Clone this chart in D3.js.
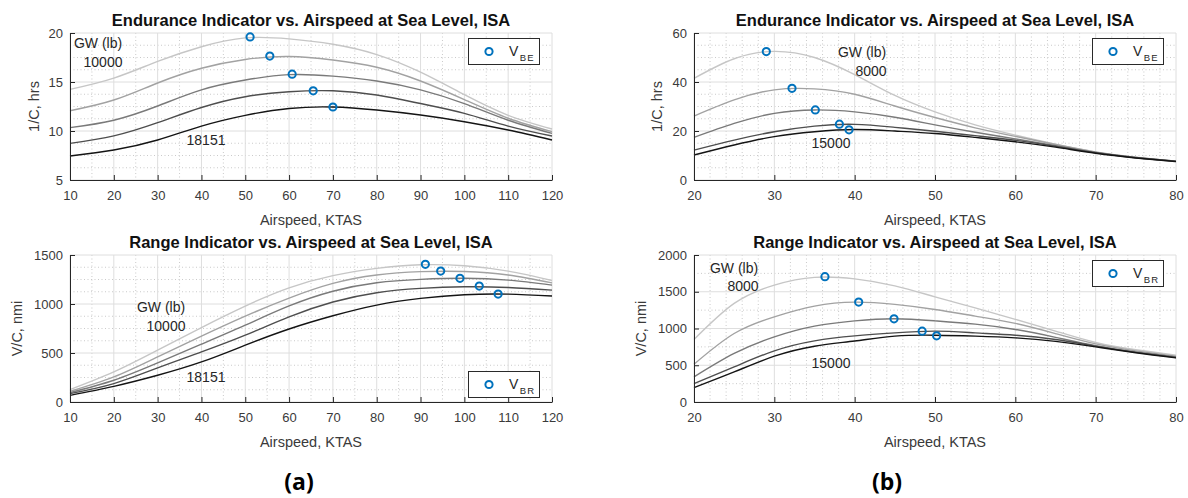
<!DOCTYPE html>
<html>
<head>
<meta charset="utf-8">
<script src="https://cdn.jsdelivr.net/npm/d3@7"></script>
<style>
  html, body { margin: 0; padding: 0; background: #fff; }
  svg { display: block; }
  text { font-family: "Liberation Sans", Arial, Helvetica, sans-serif; }
</style>
</head>
<body>
<svg id="chart" width="1188" height="498"></svg>
<script>
// ---------------- DATA ----------------
// Panel (a): airspeed samples (KTAS)
const speedsA = [10, 20, 30, 40, 50, 60, 70, 80, 90, 100, 110, 120];
// Endurance indicator 1/C (hrs), GW 10000 -> 18151 lb
const enduranceA = [
  [14.25, 15.4, 17.1, 18.6, 19.5, 19.4, 18.85, 17.8, 16.0, 13.7, 11.6, 10.2],
  [12.07, 13.16, 14.9, 16.4, 17.3, 17.6, 17.24, 16.5, 15.1, 13.2, 11.3, 9.93],
  [10.34, 11.1, 12.55, 14.2, 15.2, 15.75, 15.6, 15.1, 14.2, 12.8, 11.1, 9.76],
  [8.74, 9.5, 10.85, 12.4, 13.5, 14.0, 14.1, 13.67, 12.8, 11.8, 10.5, 9.49],
  [7.45, 8.06, 9.08, 10.5, 11.6, 12.3, 12.45, 12.14, 11.63, 10.95, 10.1, 9.08]
];
const vbeA = [[51.1, 19.6], [55.6, 17.65], [60.7, 15.8], [65.5, 14.1], [70.0, 12.45]];
// Range indicator V/C (nmi)
const rangeA = [
  [127, 307, 529, 760, 979, 1165, 1290, 1364, 1400, 1390, 1335, 1240],
  [109, 256, 460, 672, 876, 1060, 1210, 1296, 1330, 1332, 1296, 1215],
  [96, 222, 399, 590, 784, 980, 1130, 1217, 1251, 1262, 1244, 1193],
  [86, 188, 348, 511, 682, 869, 1020, 1115, 1159, 1176, 1169, 1142],
  [68, 160, 273, 409, 580, 745, 880, 989, 1057, 1095, 1101, 1081]
];
const vbrA = [[91.1, 1405], [94.6, 1336], [99.0, 1262], [103.4, 1183], [107.7, 1101]];

// Panel (b)
const speedsB = [20, 25, 30, 35, 40, 45, 50, 55, 60, 65, 70, 75, 80];
// GW 8000 -> 15000 lb
const enduranceB = [
  [41.5, 49.5, 52.5, 50.0, 43.0, 34.5, 27.8, 22.5, 18.3, 14.6, 11.5, 9.3, 7.7],
  [26.1, 32.7, 36.8, 37.2, 35.0, 30.2, 25.5, 21.3, 17.8, 14.5, 11.4, 9.2, 7.7],
  [17.4, 23.1, 27.2, 28.6, 27.8, 25.6, 22.5, 19.5, 16.8, 14.0, 11.2, 9.2, 7.7],
  [12.2, 16.3, 19.7, 22.0, 22.7, 21.5, 19.9, 18.1, 16.2, 13.8, 11.1, 9.1, 7.6],
  [10.2, 14.3, 17.7, 19.7, 20.6, 20.0, 19.0, 17.4, 15.6, 13.4, 10.9, 9.0, 7.5]
];
const vbeB = [[29.0, 52.4], [32.2, 37.4], [35.1, 28.6], [38.1, 22.8], [39.3, 20.5]];
const rangeB = [
  [850, 1341, 1591, 1696, 1675, 1580, 1430, 1280, 1125, 965, 810, 710, 637],
  [514, 932, 1159, 1305, 1359, 1328, 1259, 1168, 1069, 930, 790, 695, 623],
  [341, 660, 886, 1032, 1104, 1132, 1104, 1059, 987, 880, 765, 680, 614],
  [250, 477, 696, 832, 900, 941, 964, 941, 909, 850, 760, 675, 605],
  [196, 409, 623, 759, 830, 896, 909, 896, 873, 825, 750, 670, 600]
];
const vbrB = [[36.3, 1705], [40.5, 1359], [44.9, 1132], [48.4, 964], [50.2, 900]];

const ticksXA = [10, 20, 30, 40, 50, 60, 70, 80, 90, 100, 110, 120];
const ticksXB = [20, 30, 40, 50, 60, 70, 80];
const ticksEndA = [5, 10, 15, 20];
const ticksRangeA = [0, 500, 1000, 1500];
const ticksEndB = [0, 20, 40, 60];
const ticksRangeB = [0, 500, 1000, 1500, 2000];

const titleEnd = "Endurance Indicator vs. Airspeed at Sea Level, ISA";
const titleRange = "Range Indicator vs. Airspeed at Sea Level, ISA";
const xLabel = "Airspeed, KTAS";
const yLabelEnd = "1/C, hrs";
const yLabelRange = "V/C, nmi";
const gwColors = ["#c6c6c6", "#a2a2a2", "#7a7a7a", "#4e4e4e", "#141414"];

// ---------------- DRAW ----------------
const svg = d3.select("#chart");
svg.append("rect").attr("width", 1188).attr("height", 498).attr("fill", "#fff");

function range(a, b, s) { const r = []; for (let v = a; v <= b + 1e-9; v += s) r.push(+v.toFixed(6)); return r; }

function panel(cfg) {
  const x = d3.scaleLinear().domain(cfg.xd).range([cfg.x0, cfg.x1]);
  const y = d3.scaleLinear().domain(cfg.yd).range([cfg.y1, cfg.y0]);
  const g = svg.append("g");

  // minor grid (dotted)
  const minor = g.append("g").attr("stroke", "#bdbdbd").attr("stroke-width", 0.8).attr("stroke-dasharray", "1,2.5");
  range(cfg.xd[0], cfg.xd[1], cfg.mx).forEach(v => {
    if (cfg.tx.some(t => Math.abs(t - v) < 1e-6)) return;
    minor.append("line").attr("x1", x(v)).attr("x2", x(v)).attr("y1", cfg.y0).attr("y2", cfg.y1);
  });
  range(cfg.yd[0], cfg.yd[1], cfg.my).forEach(v => {
    if (cfg.ty.some(t => Math.abs(t - v) < 1e-6)) return;
    minor.append("line").attr("y1", y(v)).attr("y2", y(v)).attr("x1", cfg.x0).attr("x2", cfg.x1);
  });
  // major grid
  const major = g.append("g").attr("stroke", "#dedede").attr("stroke-width", 1);
  cfg.tx.forEach(v => major.append("line").attr("x1", x(v)).attr("x2", x(v)).attr("y1", cfg.y0).attr("y2", cfg.y1));
  cfg.ty.forEach(v => major.append("line").attr("y1", y(v)).attr("y2", y(v)).attr("x1", cfg.x0).attr("x2", cfg.x1));

  // curves
  const line = d3.line().x(d => x(d[0])).y(d => y(d[1])).curve(d3.curveNatural);
  cfg.series.forEach((s, i) => {
    g.append("path").datum(cfg.xs.map((v, j) => [v, s[j]]))
      .attr("d", line).attr("fill", "none").attr("stroke", gwColors[i]).attr("stroke-width", 1.4);
  });
  // markers
  g.selectAll(".mk").data(cfg.pts).enter().append("circle")
    .attr("cx", d => x(d[0])).attr("cy", d => y(d[1])).attr("r", 3.6)
    .attr("fill", "none").attr("stroke", "#0072BD").attr("stroke-width", 2);

  // axes
  const ax = g.append("g").attr("transform", `translate(0,${cfg.y1})`)
    .call(d3.axisBottom(x).tickValues(cfg.tx).tickSizeInner(-5).tickSizeOuter(0).tickPadding(11).tickFormat(d3.format("d")));
  const ay = g.append("g").attr("transform", `translate(${cfg.x0},0)`)
    .call(d3.axisLeft(y).tickValues(cfg.ty).tickSizeInner(-5).tickSizeOuter(0).tickPadding(7).tickFormat(d3.format("d")));
  [ax, ay].forEach(a => {
    a.select(".domain").attr("stroke", "#262626");
    a.selectAll(".tick line").attr("stroke", "#262626");
    a.selectAll("text").attr("fill", "#3a3a3a").style("font-size", "13px")
      .style("font-family", '"Liberation Sans", Arial, sans-serif');
  });

  // title
  g.append("text").attr("x", (cfg.x0 + cfg.x1) / 2).attr("y", cfg.y0 - 7.5)
    .attr("text-anchor", "middle").style("font-size", "16.5px").style("font-weight", "bold")
    .attr("fill", "#111").text(cfg.title);
  // x label
  g.append("text").attr("x", (cfg.x0 + cfg.x1) / 2).attr("y", cfg.y1 + 45)
    .attr("text-anchor", "middle").style("font-size", "14.5px").attr("fill", "#3a3a3a").text(xLabel);
  // y label
  g.append("text").attr("transform", `translate(${cfg.ylx},${(cfg.y0 + cfg.y1) / 2}) rotate(-90)`)
    .attr("text-anchor", "middle").attr("dy", "0.35em").style("font-size", "14.5px").attr("fill", "#3a3a3a").text(cfg.ylabel);

  // annotations
  cfg.notes.forEach(n => g.append("text").attr("x", n[0]).attr("y", n[1]).attr("text-anchor", "middle")
    .style("font-size", "14px").attr("fill", "#262626").text(n[2]));

  // legend
  const L = cfg.legend;
  const lg = g.append("g").attr("transform", `translate(${L[0]},${L[1]})`);
  lg.append("rect").attr("x", 0.5).attr("y", 0.5).attr("width", 71).attr("height", 26)
    .attr("fill", "#fff").attr("stroke", "#2a2a2a").attr("stroke-width", 1);
  lg.append("circle").attr("cx", 21).attr("cy", 13.5).attr("r", 3.6)
    .attr("fill", "none").attr("stroke", "#0072BD").attr("stroke-width", 2);
  const t = lg.append("text").attr("x", 41).attr("y", 18).style("font-size", "14px").attr("fill", "#262626");
  t.append("tspan").text("V");
  t.append("tspan").attr("dy", 5).attr("dx", 1.5).style("font-size", "9.5px").style("letter-spacing", "1px").text(L[2]);
}

panel({ x0: 70, x1: 552, y0: 33, y1: 180, xd: [10, 120], yd: [5, 20], tx: ticksXA, ty: ticksEndA, mx: 5, my: 1.25,
  xs: speedsA, series: enduranceA, pts: vbeA, title: titleEnd, ylabel: yLabelEnd, ylx: 34,
  notes: [[98, 48, "GW (lb)"], [103, 66.5, "10000"], [206, 145, "18151"]], legend: [468, 38, "BE"] });
panel({ x0: 70, x1: 552, y0: 255, y1: 402, xd: [10, 120], yd: [0, 1500], tx: ticksXA, ty: ticksRangeA, mx: 5, my: 125,
  xs: speedsA, series: rangeA, pts: vbrA, title: titleRange, ylabel: yLabelRange, ylx: 17,
  notes: [[161, 311.5, "GW (lb)"], [166, 331, "10000"], [206, 381.5, "18151"]], legend: [468, 371, "BR"] });
panel({ x0: 694, x1: 1176, y0: 33, y1: 180, xd: [20, 80], yd: [0, 60], tx: ticksXB, ty: ticksEndB, mx: 2, my: 5,
  xs: speedsB, series: enduranceB, pts: vbeB, title: titleEnd, ylabel: yLabelEnd, ylx: 657,
  notes: [[862, 56.5, "GW (lb)"], [871, 76, "8000"], [831, 148.3, "15000"]], legend: [1092, 38, "BE"] });
panel({ x0: 694, x1: 1176, y0: 255, y1: 402, xd: [20, 80], yd: [0, 2000], tx: ticksXB, ty: ticksRangeB, mx: 2, my: 250,
  xs: speedsB, series: rangeB, pts: vbrB, title: titleRange, ylabel: yLabelRange, ylx: 641,
  notes: [[734, 272.7, "GW (lb)"], [743, 290.7, "8000"], [831, 368.3, "15000"]], legend: [1092, 260, "BR"] });

// sub-figure labels
svg.append("text").attr("x", 299).attr("y", 490).attr("text-anchor", "middle")
  .style("font-family", '"Open Sans", "Noto Sans", sans-serif').style("font-size", "23px").style("font-weight", "bold")
  .attr("fill", "#000").text("(a)");
svg.append("text").attr("x", 887).attr("y", 490).attr("text-anchor", "middle")
  .style("font-family", '"Open Sans", "Noto Sans", sans-serif').style("font-size", "23px").style("font-weight", "bold")
  .attr("fill", "#000").text("(b)");
</script>
</body>
</html>
